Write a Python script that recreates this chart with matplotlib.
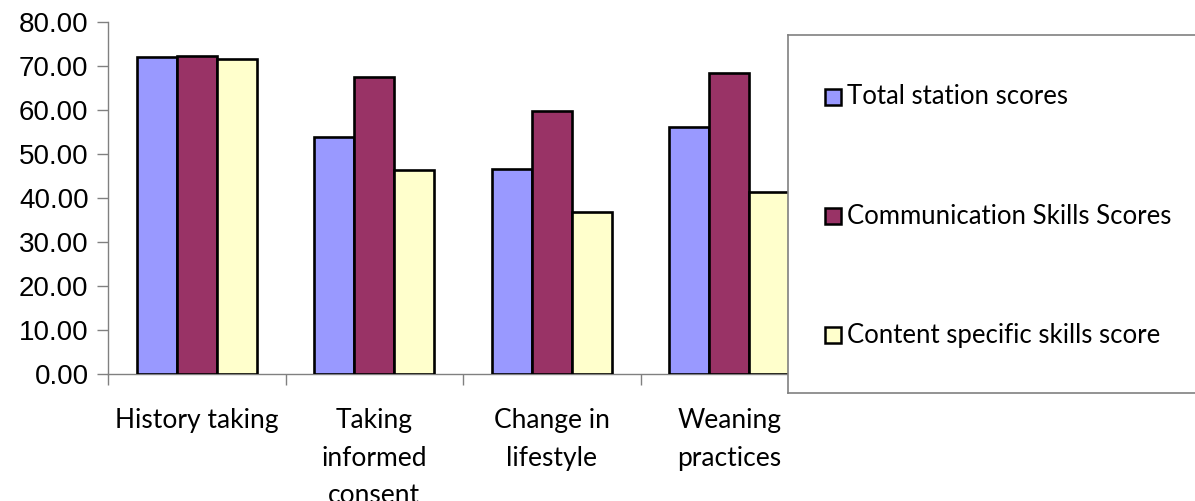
import matplotlib.pyplot as plt
import numpy as np
from matplotlib.patches import Rectangle

categories = ['History taking', 'Taking\ninformed\nconsent', 'Change in\nlifestyle', 'Weaning\npractices']
series_names = ['Total station scores', 'Communication Skills Scores', 'Content specific skills score']
total_scores = [72.0, 53.9, 46.7, 56.1]
communication_scores = [72.3, 67.6, 59.7, 68.3]
content_scores = [71.6, 46.4, 36.9, 41.3]
colors = ['#9999FF', '#993366', '#FFFFCC']

W, H = 1195, 501
fig = plt.figure(figsize=(W / 100, H / 100), dpi=100)
ax = fig.add_axes([108 / W, (H - 374) / H, 710 / W, 352 / H])

x = np.arange(len(categories))
width = 0.225
all_series = [total_scores, communication_scores, content_scores]
for i, (vals, col) in enumerate(zip(all_series, colors)):
    ax.bar(x + (i - 1) * width, vals, width, color=col, edgecolor='black',
           linewidth=1.9, label=series_names[i], zorder=3)

ax.set_xlim(-0.5, len(categories) - 0.5)
ax.set_ylim(0, 80)
ax.set_yticks(np.arange(0, 81, 10))
ax.set_yticklabels([f'{v:.2f}' for v in np.arange(0, 81, 10)],
                   fontsize=20, family='Liberation Sans')
ax.tick_params(axis='y', length=8, width=1, color='#808080', pad=6)

# category labels centred, tick marks at group boundaries
ax.set_xticks(np.arange(-0.5, len(categories), 1.0))
ax.set_xticklabels([])
ax.tick_params(axis='x', length=8, width=1, color='#808080')
for xi, lab in zip(x, categories):
    ax.text(xi, -7.8, lab, ha='center', va='top', fontsize=19,
            family='Lato', linespacing=1.62)

for s in ['top', 'right']:
    ax.spines[s].set_visible(False)
for s in ['left', 'bottom']:
    ax.spines[s].set_color('#808080')
    ax.spines[s].set_linewidth(1)

# legend box on top of the plot, running off the right edge
lax = fig.add_axes([788 / W, (H - 393) / H, 440 / W, 358 / H], zorder=5)
lax.set_xlim(788, 1228)
lax.set_ylim(393, 35)
lax.set_xticks([])
lax.set_yticks([])
for s in lax.spines.values():
    s.set_color('#808080')
    s.set_linewidth(1.2)
for yc, name, col in zip([97, 216, 335], series_names, colors):
    lax.add_patch(Rectangle((825, yc - 8), 16, 16, facecolor=col,
                            edgecolor='black', linewidth=1.8))
    lax.text(847, yc, name, va='center', ha='left', fontsize=18.5, family='Lato')

fig.savefig('out.png', dpi=100)
